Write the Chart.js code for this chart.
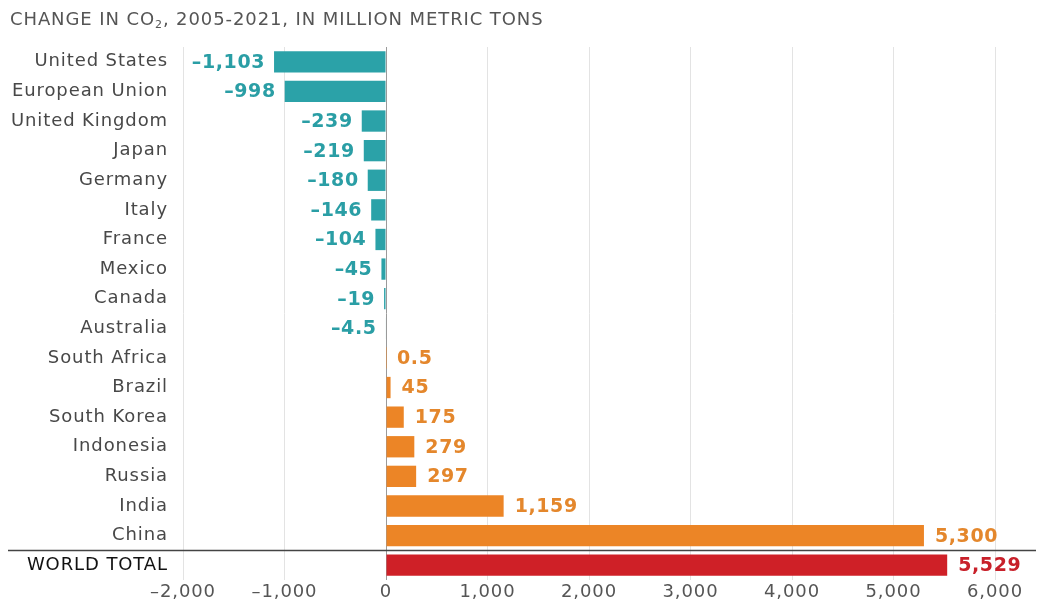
<!DOCTYPE html>
<html>
<head>
<meta charset="utf-8">
<script src="https://cdn.jsdelivr.net/npm/chart.js@4"></script>
<style>
  html, body { margin: 0; padding: 0; background: #fff; }
  #wrap { position: relative; width: 1040px; height: 604px; }
  #title { position: absolute; left: 10px; top: 8px; font: 18px "DejaVu Sans", sans-serif; color: #555; letter-spacing: 0.9px; }
  #title sub { font-size: 11px; vertical-align: -3px; line-height: 0; }
</style>
</head>
<body>
<div id="wrap">
  <canvas id="co2Chart" width="1040" height="604"></canvas>
  <div id="title">CHANGE IN CO<sub>2</sub>, 2005-2021, IN MILLION METRIC TONS</div>
</div>
<script>
// Change in CO2 emissions 2005-2021 (million metric tons)
const countries = ['United States', 'European Union', 'United Kingdom', 'Japan', 'Germany', 'Italy', 'France',
  'Mexico', 'Canada', 'Australia', 'South Africa', 'Brazil', 'South Korea', 'Indonesia', 'Russia', 'India', 'China', 'WORLD TOTAL'];
const changes = [-1103, -998, -239, -219, -180, -146, -104, -45, -19, -4.5, 0.5, 45, 175, 279, 297, 1159, 5300, 5529];
const xTicks = [-2000, -1000, 0, 1000, 2000, 3000, 4000, 5000, 6000];

const TEAL = '#2ba2a8';
const ORANGE = '#ec8526';
const RED = '#cf2027';
const FONT = '"DejaVu Sans", sans-serif';

function fmt(v) {
  return v.toLocaleString('en-US', { maximumFractionDigits: 1 }).replace('-', '\u2013');
}

function barColor(v, i) {
  if (i === countries.length - 1) return RED;
  return v < 0 ? TEAL : ORANGE;
}

// wider lettering for axis text
const spacing = {
  id: 'spacing',
  beforeDraw(chart) { chart.ctx.letterSpacing = '0.9px'; }
};

// value labels next to bar ends
const valueLabels = {
  id: 'valueLabels',
  afterDatasetsDraw(chart) {
    const ctx = chart.ctx;
    const meta = chart.getDatasetMeta(0);
    ctx.save();
    ctx.font = 'bold 19px ' + FONT;
    ctx.letterSpacing = '0.6px';
    ctx.textBaseline = 'middle';
    meta.data.forEach((bar, i) => {
      const v = changes[i];
      const last = i === changes.length - 1;
      ctx.fillStyle = last ? '#c8202a' : (v < 0 ? '#2a9ea5' : '#e4872c');
      if (v < 0) {
        ctx.textAlign = 'right';
        ctx.fillText(fmt(v), bar.x - 9, bar.y + 1);
      } else {
        ctx.textAlign = 'left';
        ctx.fillText(fmt(v), bar.x + 11, bar.y + 1);
      }
    });
    ctx.restore();
  }
};

// line separating the world total
const separator = {
  id: 'separator',
  afterDraw(chart) {
    const meta = chart.getDatasetMeta(0);
    const n = meta.data.length;
    const y = (meta.data[n - 2].y + meta.data[n - 1].y) / 2;
    const ctx = chart.ctx;
    ctx.save();
    ctx.strokeStyle = '#444';
    ctx.lineWidth = 1.5;
    ctx.beginPath();
    ctx.moveTo(8, y);
    ctx.lineTo(1036, y);
    ctx.stroke();
    ctx.restore();
  }
};

new Chart(document.getElementById('co2Chart'), {
  type: 'bar',
  data: {
    labels: countries,
    datasets: [{
      data: changes,
      backgroundColor: changes.map(barColor),
      barPercentage: 0.72,
      categoryPercentage: 1
    }]
  },
  options: {
    indexAxis: 'y',
    responsive: false,
    animation: false,
    layout: { padding: { top: 47, right: 45, left: 0, bottom: 0 } },
    plugins: { legend: { display: false }, tooltip: { enabled: false } },
    scales: {
      x: {
        min: -2000,
        max: 6000,
        afterBuildTicks: s => { s.ticks = xTicks.map(v => ({ value: v })); },
        afterFit: s => { s.height = 24; },
        border: { display: false },
        grid: {
          color: c => c.tick && c.tick.value === 0 ? '#9a9a9a' : '#e3e3e3',
          lineWidth: 1,
          drawTicks: false
        },
        ticks: {
          padding: 2,
          color: '#555',
          font: { size: 18, family: FONT },
          callback: v => fmt(v)
        }
      },
      y: {
        border: { display: false },
        grid: { display: false },
        afterFit: s => { s.width = 183; },
        ticks: {
          padding: 7,
          color: c => c.index === countries.length - 1 ? '#111' : '#484848',
          font: { size: 18, family: FONT }
        }
      }
    }
  },
  plugins: [spacing, valueLabels, separator]
});
</script>
</body>
</html>
